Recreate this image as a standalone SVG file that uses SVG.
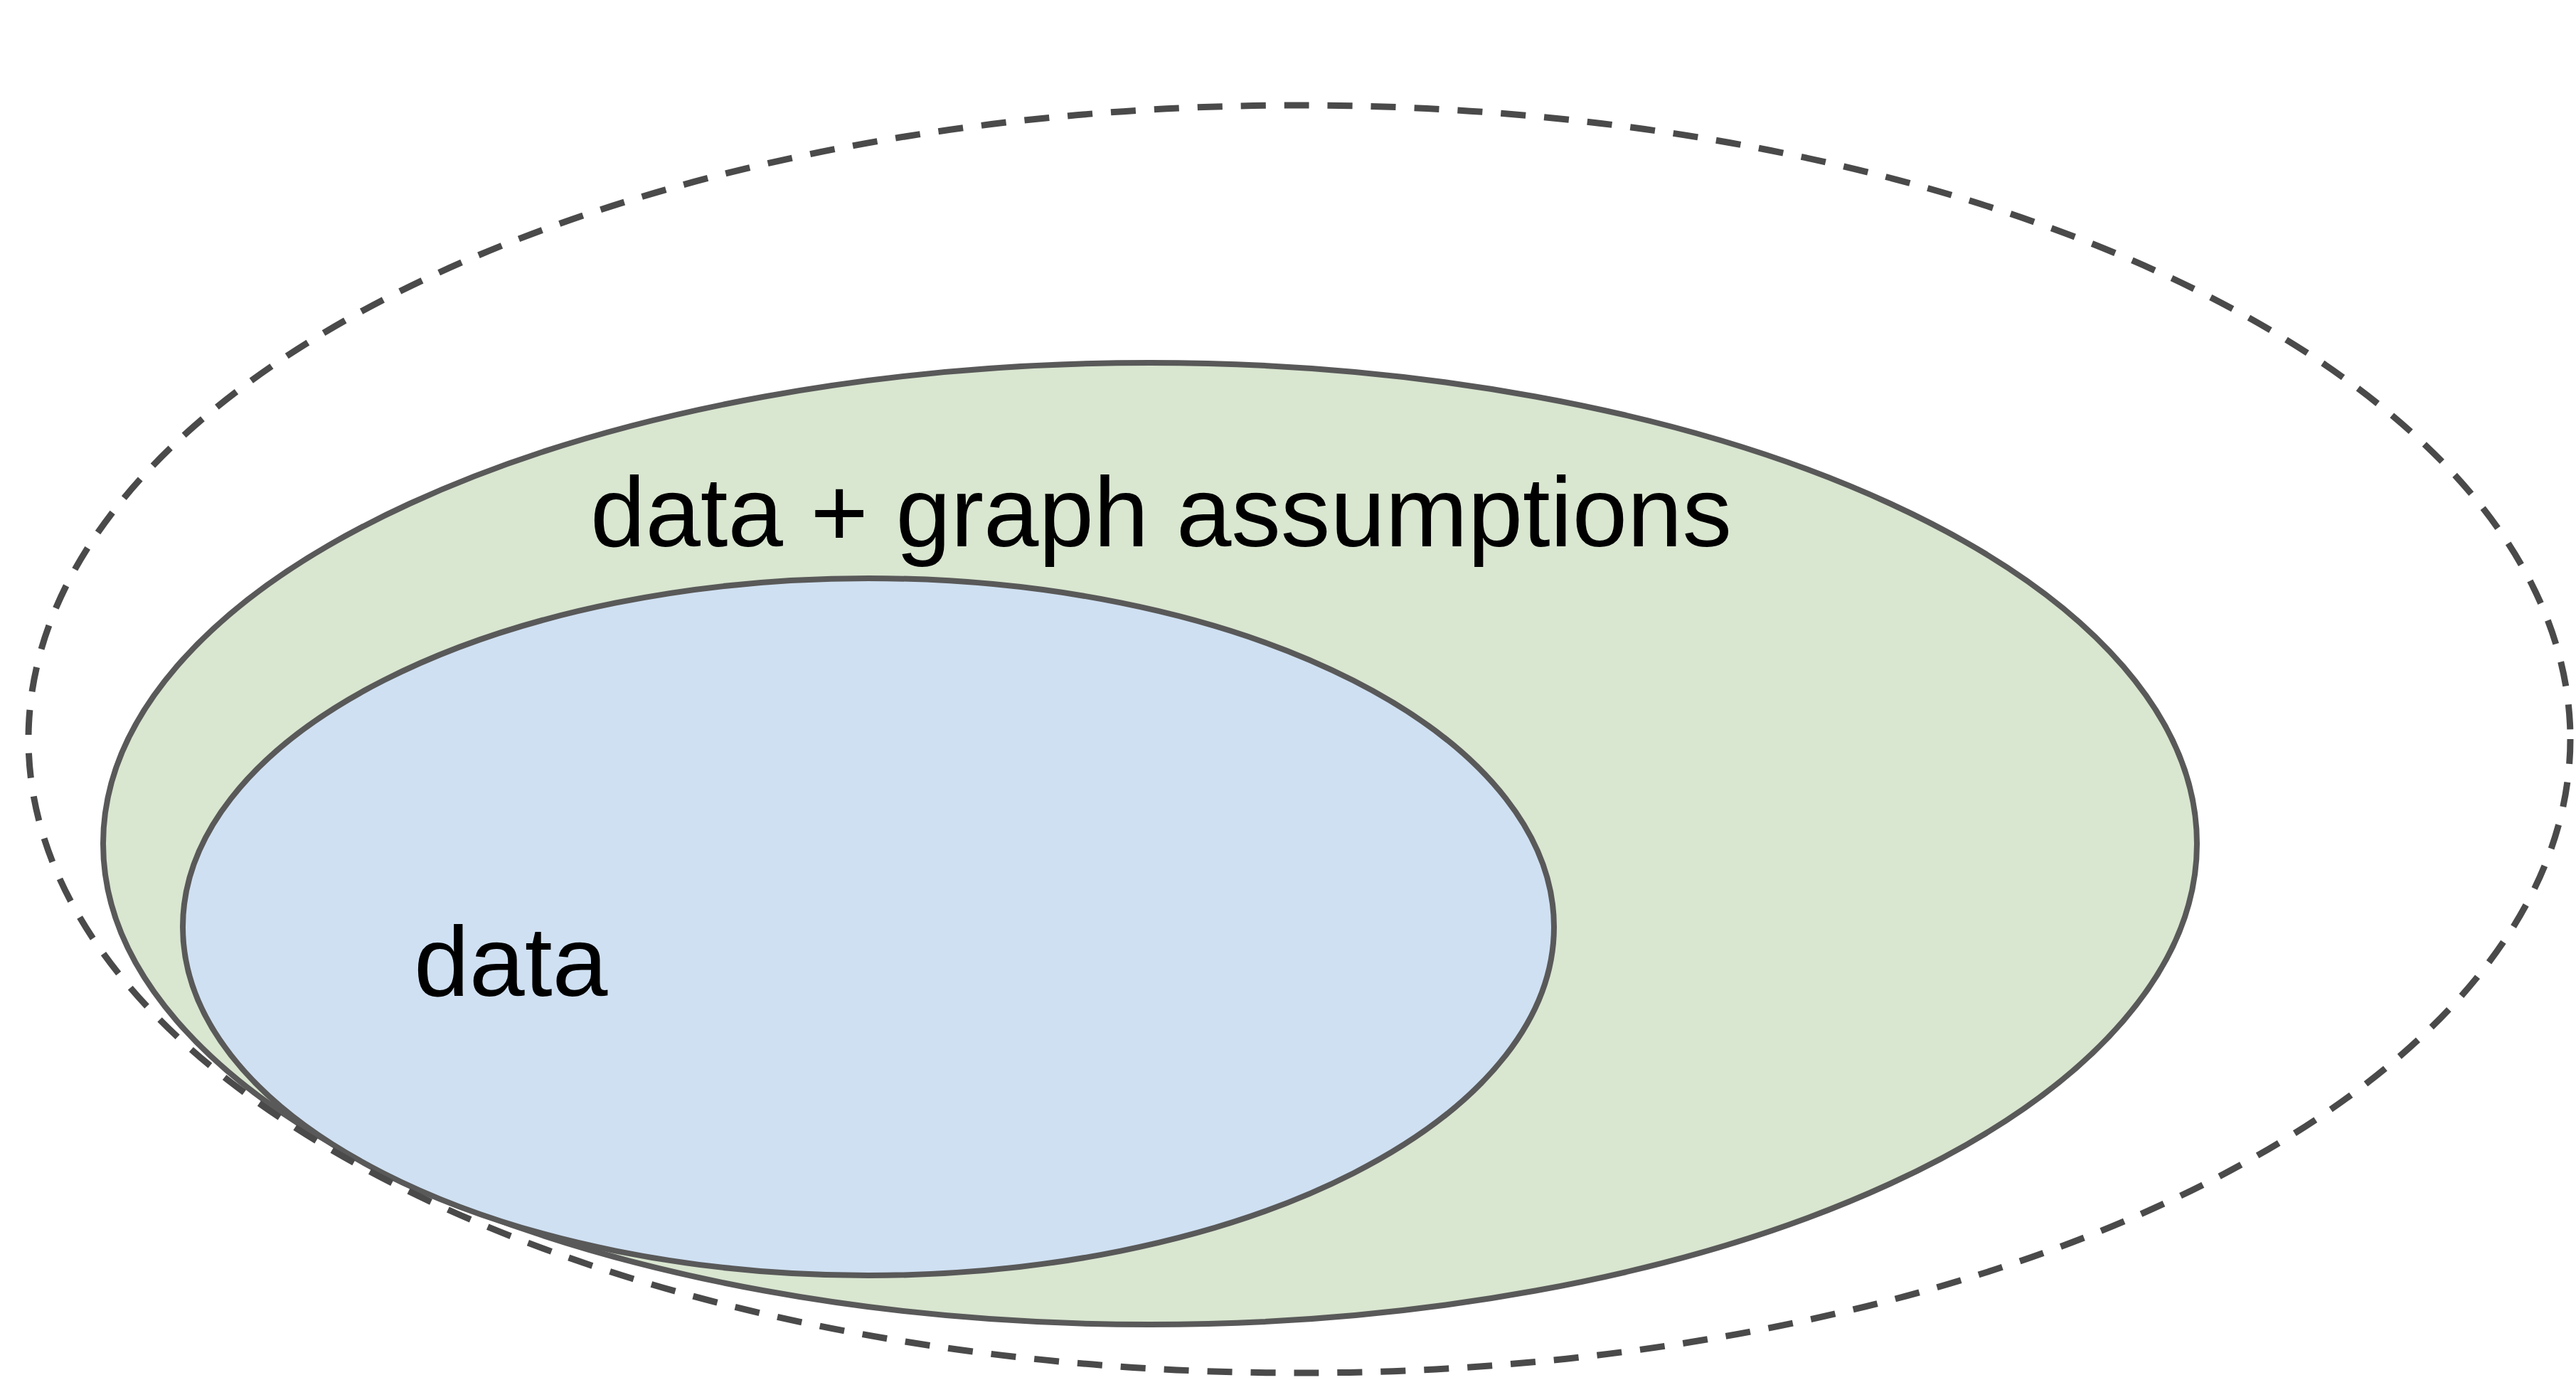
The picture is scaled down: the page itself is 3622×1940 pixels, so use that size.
<svg xmlns="http://www.w3.org/2000/svg" width="3622" height="1940" viewBox="0 0 3622 1940">
  <style>
    .ell { stroke: #595959; stroke-width: 8; }
    .dash { fill: none; stroke: #4a4a4a; stroke-width: 9; stroke-dasharray: 35 26; }
    .lbl { font-family: "Liberation Sans", Arial, sans-serif; font-size: 140px; fill: #000000; }
  </style>
  <rect x="0" y="0" width="3622" height="1940" fill="#ffffff"/>
  <g id="graph-assumptions">
    <ellipse class="ell" cx="1617" cy="1186" rx="1472" ry="676" fill="#d9e6d0"/>
    <text class="lbl" x="830" y="768" textLength="1605" lengthAdjust="spacingAndGlyphs">data + graph assumptions</text>
  </g>
  <g id="data">
    <ellipse class="ell" cx="1221" cy="1303" rx="964" ry="490" fill="#cfe0f2"/>
    <text class="lbl" x="582" y="1400">data</text>
  </g>
  <g id="outer">
    <ellipse class="dash" cx="1827" cy="1039" rx="1787" ry="891"/>
  </g>
  <g id="connectors"/>
</svg>
